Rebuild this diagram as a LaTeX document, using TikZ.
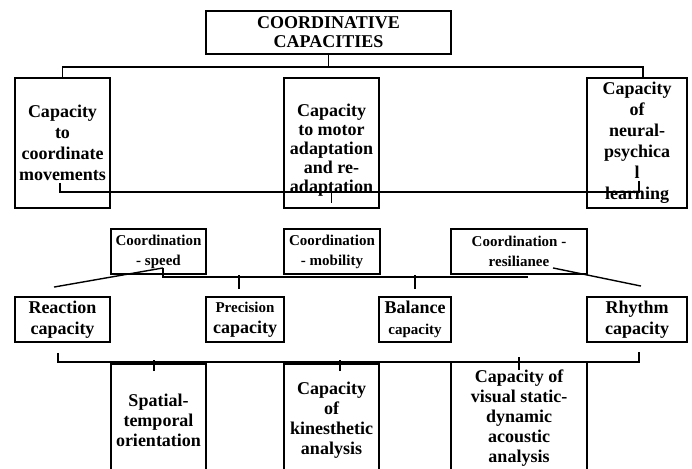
\documentclass[tikz,border=0pt]{standalone}
\usepackage{fontspec}
\setmainfont{Liberation Serif}
\usetikzlibrary{positioning}

\tikzset{
  capbox/.style={draw, line width=1.9pt, inner sep=0pt, align=center,
    font=\bfseries\fontsize{18}{20.5}\selectfont},
  link/.style={line width=1.4pt},
}
\newcommand{\smalltxt}{\fontsize{15}{20}\selectfont}

\begin{document}
\begin{tikzpicture}[x=1pt, y=-1pt]  % pixel-like units, y pointing down
    \useasboundingbox (0,0) rectangle (692,468);
    \clip (0,0) rectangle (692,468);

    % Title box
    \node[capbox, minimum width=245, minimum height=43,
          font=\bfseries\fontsize{18}{19}\selectfont] (top) at (328.5,32.5) {COORDINATIVE\\CAPACITIES};

    % First row: the three general capacities
    \node[capbox, minimum width=95, minimum height=130, font=\bfseries\fontsize{18}{21}\selectfont] (L1) at (62.5,143)
        {Capacity\\to\\coordinate\\movements};
    \node[capbox, minimum width=95, minimum height=130, font=\bfseries\fontsize{18}{19}\selectfont] (M1) at (331.5,143)
        {\rule{0pt}{27pt}Capacity\\to motor\\adaptation\\and re-\\adaptation};
    \node[capbox, minimum width=100, minimum height=130, font=\bfseries\fontsize{18}{21}\selectfont] (R1) at (637,143)
        {Capacity\\of\\neural-\\psychica\\l\\learning};

    % Second row: coordination with other qualities
    \node[capbox, minimum width=95, minimum height=45, font=\bfseries\smalltxt] (C1) at (158.5,251.5) {Coordination\\- speed};
    \node[capbox, minimum width=96, minimum height=45, font=\bfseries\smalltxt] (C2) at (332,251.5) {Coordination\\- mobility};
    \node[capbox, minimum width=136, minimum height=45, font=\bfseries\smalltxt] (C3) at (519,251.5) {Coordination -\\resilianee};

    % Third row: specific capacities
    \node[capbox, minimum width=95, minimum height=45] (Re) at (62.5,319.5) {Reaction\\capacity};
    \node[capbox, minimum width=78, minimum height=45] (Pr) at (245,319.5) {{\smalltxt Precision}\\capacity};
    \node[capbox, minimum width=72, minimum height=45] (Ba) at (415,319.5) {Balance\\{\smalltxt capacity}};
    \node[capbox, minimum width=100, minimum height=45] (Rh) at (637,319.5) {Rhythm\\capacity};

    % Fourth row: analysis capacities (cut at the bottom)
    \node[capbox, minimum width=95, minimum height=112, font=\bfseries\fontsize{18}{20}\selectfont] (B1) at (158.5,420) {Spatial-\\temporal\\orientation};
    \node[capbox, minimum width=95, minimum height=112, font=\bfseries\fontsize{18}{20}\selectfont] (B2) at (331.5,420) {Capacity\\of\\kinesthetic\\analysis};
    \node[capbox, minimum width=136, minimum height=112, font=\bfseries\fontsize{18}{20}\selectfont] (B3) at (519,418) {Capacity of\\visual static-\\dynamic\\acoustic\\analysis};

    % Title to first row
    \draw[link] (top.south) -- ++(0,12) coordinate (t1);
    \draw[link] (L1.north) |- (t1) -| ([xshift=6pt]R1.north);

    % Bracket across the first row
    \draw[link] ([xshift=-2.5pt,yshift=26pt]L1.south) -- ++(0,9) -| ([xshift=2pt,yshift=28pt]R1.south);
    \draw[link] ([yshift=6pt]M1.south) -- ++(0,-11);

    % Second row to third row
    \draw[link] ([xshift=4.5pt,yshift=7pt]C1.south) -- ++(0,9) -- ([xshift=9pt,yshift=-2pt]C3.south);
    \draw[link] ([xshift=-6pt,yshift=7pt]Pr.north) -- ++(0,-14);
    \draw[link] ([yshift=7pt]Ba.north) -- ++(0,-14);
    \draw[link] ([xshift=-8.5pt,yshift=9pt]Re.north) -- ([xshift=4.5pt,yshift=7pt]C1.south);
    \draw[link] ([xshift=34pt,yshift=7pt]C3.south) -- ([xshift=4pt,yshift=10pt]Rh.north);

    % Third row to fourth row
    \draw[link] ([xshift=-4.5pt,yshift=-10pt]Re.south) -- ++(0,9) -| ([xshift=2pt,yshift=-9pt]Rh.south);
    \draw[link] ([xshift=-4.5pt,yshift=-8pt]B1.north) -- ++(0,-11);
    \draw[link] ([xshift=8.5pt,yshift=-8pt]B2.north) -- ++(0,-11);
    \draw[link] ([yshift=-9pt]B3.north) -- ++(0,-13);
\end{tikzpicture}
\end{document}
